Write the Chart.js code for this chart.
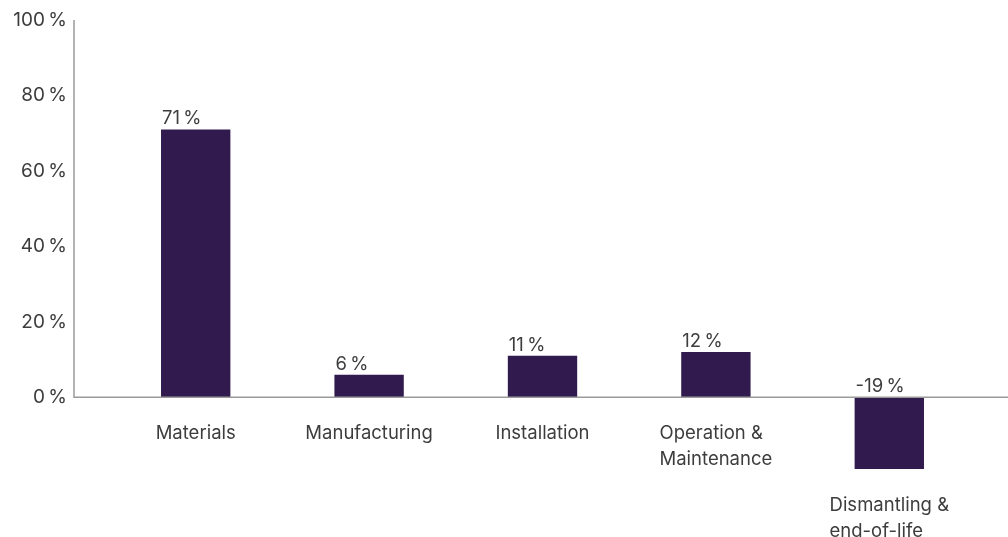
<!DOCTYPE html>
<html>
<head>
<meta charset="utf-8">
<script src="https://cdn.jsdelivr.net/npm/chart.js@4"></script>
<style>
  html, body { margin: 0; padding: 0; background: #fff; }
  #wrap { width: 1008px; height: 537px; position: relative; }
</style>
</head>
<body>
<div id="wrap"><canvas id="phaseChart"></canvas></div>
<script>
const CATEGORIES = ['Materials', 'Manufacturing', 'Installation', ['Operation &', 'Maintenance'], ['Dismantling &', 'end-of-life']];
const SHARES = [71, 6, 11, 12, -19];
const Y_TICKS = [0, 20, 40, 60, 80, 100];

const BAR_COLOR = '#311a4d';
const TEXT_COLOR = '#3d3d3d';
const AXIS_COLOR = '#9a9a9a';
const FAMILY = 'Inter, "Noto Sans", sans-serif';
const FONT = '18.5px ' + FAMILY;
const pct = v => v + '\u2009%';

// axis lines, value labels and category labels
const labelPlugin = {
    id: 'labels',
    afterDatasetsDraw(chart) {
        const { ctx, scales: { x, y } } = chart;
        const zero = y.getPixelForValue(0);
        const axisX = chart.chartArea.left - 35;

        ctx.save();
        ctx.strokeStyle = AXIS_COLOR;
        ctx.lineWidth = 1.5;
        ctx.beginPath();
        ctx.moveTo(axisX, y.getPixelForValue(100));
        ctx.lineTo(axisX, zero);
        ctx.lineTo(chart.width, zero);
        ctx.stroke();

        ctx.font = FONT;
        ctx.fillStyle = TEXT_COLOR;
        const bars = chart.getDatasetMeta(0).data;
        bars.forEach((bar, i) => {
            const v = SHARES[i];
            const left = bar.x - bar.width / 2;
            ctx.textAlign = 'left';
            ctx.textBaseline = 'alphabetic';
            ctx.fillText(pct(v), left + 1, y.getPixelForValue(Math.max(0, v)) - 5);

            const lines = [].concat(CATEGORIES[i]);
            const w = Math.max(...lines.map(l => ctx.measureText(l).width));
            const top = y.getPixelForValue(Math.min(0, v)) + 36;
            ctx.textBaseline = 'middle';
            lines.forEach((l, j) => ctx.fillText(l, x.getPixelForValue(i) - w / 2, top + j * 26));
        });
        ctx.restore();
    }
};

new Chart(document.getElementById('phaseChart'), {
    type: 'bar',
    data: {
        labels: CATEGORIES,
        datasets: [{
            data: SHARES,
            backgroundColor: BAR_COLOR,
            barPercentage: 0.4,
            categoryPercentage: 1.0
        }]
    },
    options: {
        responsive: true,
        maintainAspectRatio: false,
        animation: false,
        layout: { padding: { top: 20, right: 32, bottom: 68, left: 0 } },
        plugins: { legend: { display: false }, tooltip: { enabled: false } },
        scales: {
            x: {
                ticks: { display: false },
                grid: { display: false, drawTicks: false },
                border: { display: false }
            },
            y: {
                min: Math.min(0, ...SHARES),
                max: 100,
                afterFit: s => { s.width = 109; s.paddingTop = 10; s.paddingBottom = 10; },
                afterBuildTicks: s => { s.ticks = Y_TICKS.map(v => ({ value: v })); },
                ticks: {
                    color: TEXT_COLOR,
                    font: { family: FAMILY, size: 19 },
                    padding: 42,
                    callback: v => pct(v)
                },
                grid: { display: false, drawTicks: false },
                border: { display: false }
            }
        }
    },
    plugins: [labelPlugin]
});
</script>
</body>
</html>
